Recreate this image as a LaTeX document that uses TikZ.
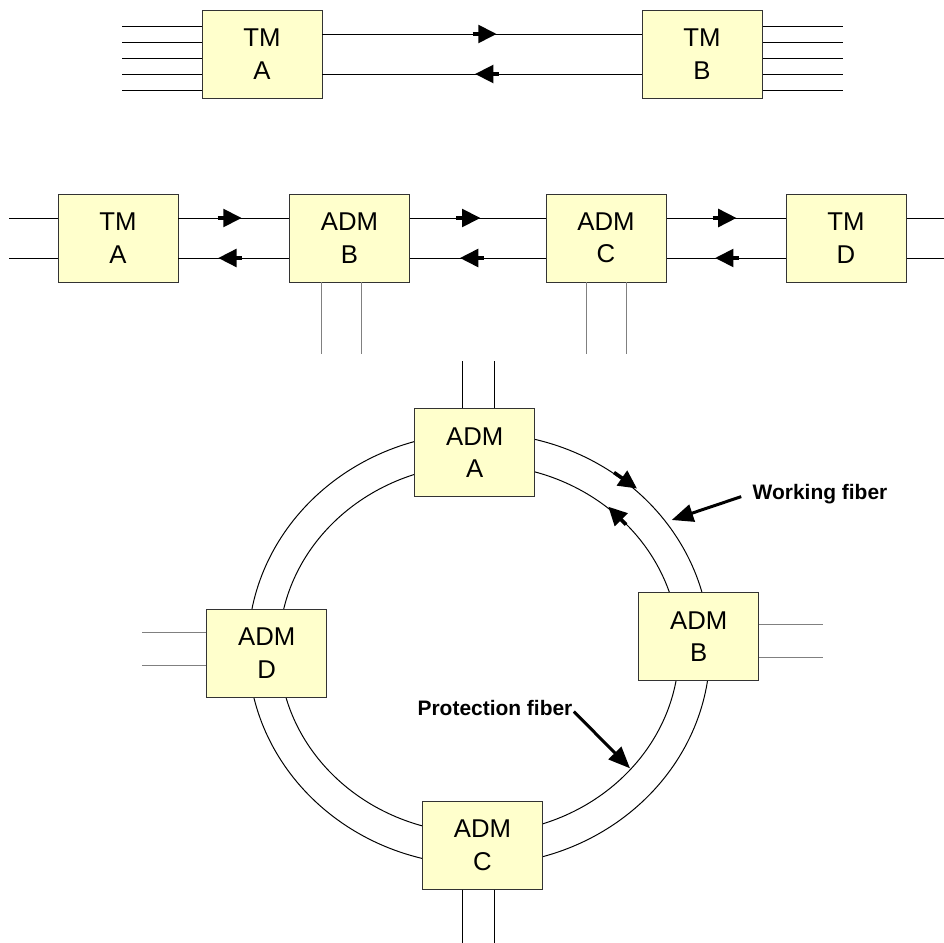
\documentclass[tikz,border=0pt]{standalone}
\usepackage{fontspec}
\setmainfont{Liberation Sans}
\usetikzlibrary{arrows.meta,decorations.markings}
\definecolor{nefill}{HTML}{FFFFCC}
\definecolor{neline}{HTML}{333333}
\begin{document}
\begin{tikzpicture}[x=0.25mm,y=-0.25mm,line width=0.7pt,
    nebox/.style={draw=neline,fill=nefill,minimum width=30mm,minimum height=22mm,
      inner sep=0pt,align=center,font=\fontsize{18.3}{23}\selectfont},
    dirtip/.style={line width=0.9mm,-{Triangle[length=4.6mm,width=4.4mm]}},
    flow/.style={postaction={decorate,decoration={markings,
      mark=at position #1 with {\draw[dirtip] (-24,0) -- (0,0);}}}},
    dropline/.style={draw=black!50},
    fibnote/.style={inner sep=0pt,font=\fontsize{14.9}{17}\selectfont\bfseries},
    pointer/.style={line width=0.75mm,-{Triangle[length=5.4mm,width=4.4mm]}}]
  \useasboundingbox (0,0) rectangle (944,943);

  % point to point
  \node[nebox] (tA) at (262,54) {TM\\A};
  \node[nebox] (tB) at (702,54) {TM\\B};
  \foreach \dy in {-28,-12,4,20,36}{
    \draw (tA.west) ++(0,\dy) -- ++(-80,0);
    \draw (tB.east) ++(0,\dy) -- ++(80,0);
  }
  \draw[flow=0.546] ([yshift=5mm]tA.east) -- ([yshift=5mm]tB.west);
  \draw[flow=0.522] ([yshift=-5mm]tB.west) -- ([yshift=-5mm]tA.east);

  % linear chain
  \node[nebox] (lA) at (118,238) {TM\\A};
  \node[nebox] (lB) at (349.5,238) {ADM\\B};
  \node[nebox] (lC) at (606,238) {ADM\\C};
  \node[nebox] (lD) at (846,238) {TM\\D};
  \draw ([yshift=5mm]lA.west) -- ++(-49,0);
  \draw ([yshift=-5mm]lA.west) -- ++(-49,0);
  \draw ([yshift=5mm]lD.east) -- ++(40,0);
  \draw ([yshift=-5mm]lD.east) -- ++(40,0);
  \draw[flow=0.572] ([yshift=5mm]lA.east) -- ([yshift=5mm]lB.west);
  \draw[flow=0.641] ([yshift=-5mm]lB.west) -- ([yshift=-5mm]lA.east);
  \draw[flow=0.52] ([yshift=5mm]lB.east) -- ([yshift=5mm]lC.west);
  \draw[flow=0.632] ([yshift=-5mm]lC.west) -- ([yshift=-5mm]lB.east);
  \draw[flow=0.589] ([yshift=5mm]lC.east) -- ([yshift=5mm]lD.west);
  \draw[flow=0.592] ([yshift=-5mm]lD.west) -- ([yshift=-5mm]lC.east);
  \draw[dropline] (lB.south) ++(-28,0) -- ++(0,72);
  \draw[dropline] (lB.south) ++(12,0) -- ++(0,72);
  \draw[dropline] (lC.south) ++(-20,0) -- ++(0,72);
  \draw[dropline] (lC.south) ++(20,0) -- ++(0,72);

  % ring
  \coordinate (ring) at (479,649);
  \draw (ring) ellipse [x radius=57.75mm, y radius=54mm];
  \draw (ring) ellipse [x radius=50mm, y radius=46.1mm];
  \node[nebox] (rA) at (474.7,452.5) {ADM\\A};
  \node[nebox] (rB) at (698.7,636.9) {ADM\\B};
  \node[nebox] (rC) at (482.5,845.2) {ADM\\C};
  \node[nebox] (rD) at (266.7,653.2) {ADM\\D};
  \draw (rA.north) ++(-12,0) -- ++(0,-47);
  \draw (rA.north) ++(20,0) -- ++(0,-47);
  \draw (rC.south) ++(-20,0) -- ++(0,53);
  \draw (rC.south) ++(12,0) -- ++(0,53);
  \draw[dropline] (rD.west) ++(0,-20.5) -- ++(-64,0);
  \draw[dropline] (rD.west) ++(0,12) -- ++(-64,0);
  \draw[dropline] (rB.east) ++(0,-12) -- ++(64,0);
  \draw[dropline] (rB.east) ++(0,20.4) -- ++(64,0);
  \draw[dirtip] (614,472.5) -- (637,488.5);
  \draw[dirtip] (626,524.5) -- (608.3,506.7);

  \node[fibnote,anchor=base] (wf) at (820,499) {Working fiber};
  \node[fibnote,anchor=base] (pf) at (495,715) {Protection fiber};
  \coordinate (wfend) at (671.7,520);
  \coordinate (pfend) at (630,768.3);
  \draw[pointer] ([shift={(-11,3)}]wf.west) -- (wfend);
  \draw[pointer] ([shift={(1,4)}]pf.east) -- (pfend);
\end{tikzpicture}
\end{document}
